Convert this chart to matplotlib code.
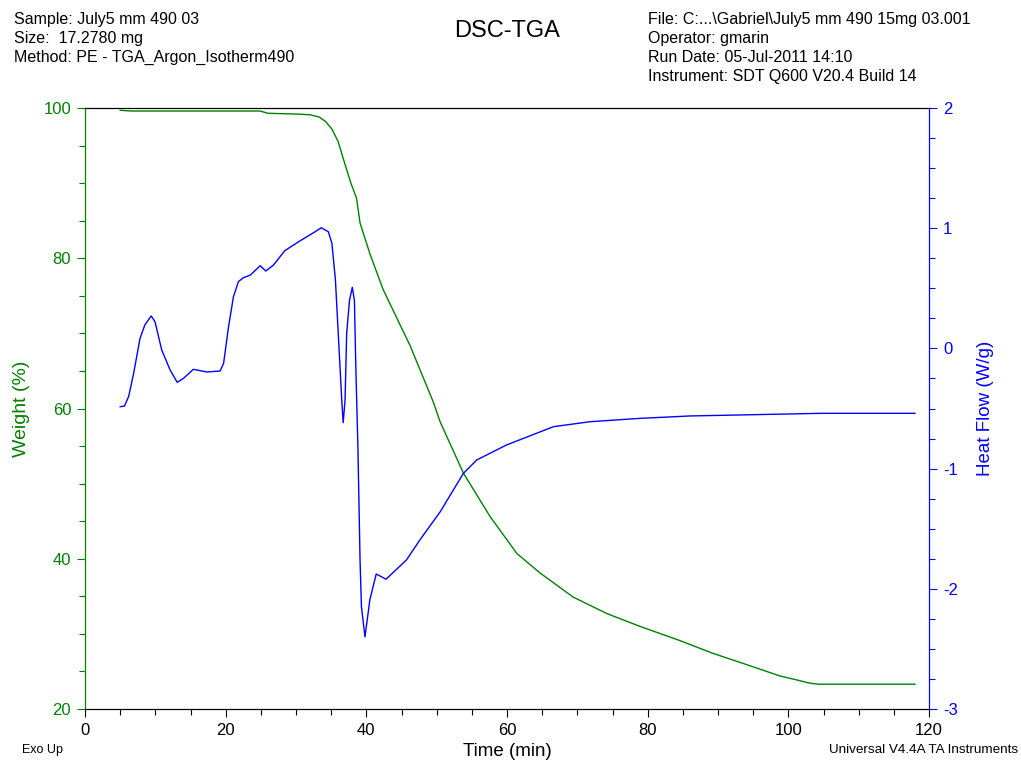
import matplotlib.pyplot as plt
from matplotlib.ticker import MultipleLocator

plt.rcParams['font.family'] = ['Liberation Sans', 'DejaVu Sans']
plt.rcParams['axes.unicode_minus'] = False

# weight curve (TGA)
time_w = [5.0, 6.6, 15.0, 24.9, 26.0, 29.9, 32.0, 33.3, 34.2, 35.1, 36.0, 36.9,
          37.8, 38.6, 39.1, 40.5, 42.4, 46.2, 49.5, 50.5, 53.8, 57.6, 61.4, 64.7,
          69.4, 74.2, 78.9, 84.6, 89.3, 94.1, 98.8, 101.5, 103.0, 104.3, 118.0]
weight = [99.7, 99.6, 99.6, 99.6, 99.3, 99.2, 99.1, 98.8, 98.2, 97.2, 95.5, 92.7,
          90.0, 88.0, 84.7, 80.6, 75.8, 68.4, 60.9, 58.2, 51.4, 45.6, 40.7, 38.1,
          34.9, 32.7, 31.0, 29.1, 27.4, 25.9, 24.4, 23.8, 23.45, 23.3, 23.3]

# heat flow curve (DSC)
time_h = [5.0, 5.6, 6.2, 6.9, 7.4, 7.8, 8.5, 9.4, 9.95, 10.9, 12.1, 13.1, 14.0,
          15.4, 17.3, 19.2, 19.7, 20.4, 21.1, 21.8, 22.5, 23.5, 24.9, 25.7, 26.8,
          28.4, 30.6, 32.5, 33.6, 34.6, 35.1, 35.6, 36.0, 36.5, 36.7, 36.97,
          37.2, 37.6, 38.0, 38.3, 38.5, 38.8, 39.1, 39.3, 39.8, 40.5, 41.4,
          42.8, 45.7, 47.6, 50.5, 53.8, 55.7, 59.9, 66.6, 71.8, 78.9, 86.0,
          104.7, 118.0]
heat_flow = [-0.485, -0.48, -0.40, -0.21, -0.05, 0.08, 0.195, 0.27, 0.222, -0.013,
             -0.18, -0.282, -0.249, -0.174, -0.196, -0.188, -0.124, 0.18, 0.43,
             0.555, 0.588, 0.61, 0.688, 0.644, 0.694, 0.813, 0.896, 0.963,
             1.004, 0.97, 0.874, 0.57, 0.126, -0.43, -0.618, -0.43, 0.126, 0.40,
             0.508, 0.40, -0.152, -0.83, -1.76, -2.149, -2.40, -2.09, -1.877,
             -1.92, -1.76, -1.594, -1.359, -1.039, -0.928, -0.804, -0.651, -0.61,
             -0.582, -0.562, -0.54, -0.54]

green = '#008000'
blue = '#0000ff'

fig = plt.figure(figsize=(10.21, 7.65), dpi=100)
ax = fig.add_axes([0.0833, 0.0732, 0.8266, 0.7856])
ax2 = ax.twinx()

ax.plot(time_w, weight, color=green, lw=1)
ax2.plot(time_h, heat_flow, color=blue, lw=1)

ax.set_xlim(0, 120)
ax.set_ylim(20, 100)
ax2.set_ylim(-3, 2)

ax.xaxis.set_major_locator(MultipleLocator(20))
ax.xaxis.set_minor_locator(MultipleLocator(5))
ax.yaxis.set_major_locator(MultipleLocator(20))
ax.yaxis.set_minor_locator(MultipleLocator(5))
ax2.yaxis.set_major_locator(MultipleLocator(1))
ax2.yaxis.set_minor_locator(MultipleLocator(0.25))

for a in (ax, ax2):
    a.tick_params(which='major', direction='out', length=6, width=0.8, labelsize=12, pad=4)
    a.tick_params(which='minor', direction='out', length=4, width=0.8)
ax.tick_params(axis='y', which='both', colors=green)
ax2.tick_params(axis='y', which='both', colors=blue)

for a in (ax, ax2):
    a.spines['left'].set_color(green)
    a.spines['right'].set_color(blue)
    a.spines['top'].set_color('black')
    a.spines['bottom'].set_color('black')

ax.set_ylabel('Weight (%)', color=green, fontsize=14, labelpad=10)
ax2.set_ylabel('Heat Flow (W/g)', color=blue, fontsize=13.5, labelpad=14)
fig.text(0.497, 0.018, 'Time (min)', fontsize=13.5, va='center', ha='center')

fig.text(0.0137, 0.984, 'Sample: July5 mm 490 03\nSize:  17.2780 mg\nMethod: PE - TGA_Argon_Isotherm490',
         fontsize=11.5, va='top', ha='left', linespacing=1.32)
fig.text(0.635, 0.984, 'File: C:...\\Gabriel\\July5 mm 490 15mg 03.001\nOperator: gmarin\n'
         'Run Date: 05-Jul-2011 14:10\nInstrument: SDT Q600 V20.4 Build 14',
         fontsize=11.5, va='top', ha='left', linespacing=1.32)
fig.text(0.497, 0.96, 'DSC-TGA', fontsize=17, va='center', ha='center')
fig.text(0.022, 0.02, 'Exo Up', fontsize=9, va='center', ha='left')
fig.text(0.997, 0.02, 'Universal V4.4A TA Instruments', fontsize=9.7, va='center', ha='right')

fig.savefig('out.png', dpi=100)
